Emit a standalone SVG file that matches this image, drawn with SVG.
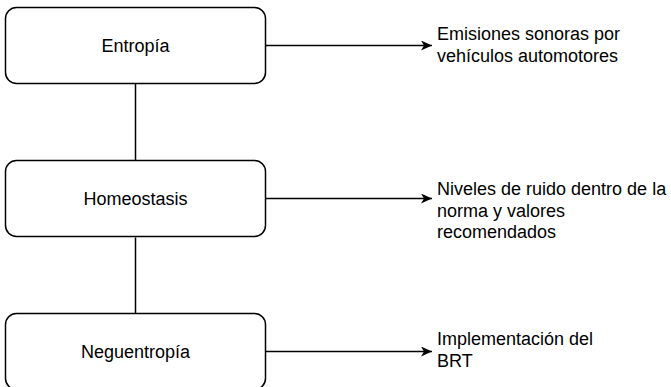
<svg xmlns="http://www.w3.org/2000/svg" width="671" height="387" viewBox="0 0 671 387">
<defs>
<marker id="arr" viewBox="0 0 11 10" refX="11" refY="5" markerWidth="11" markerHeight="10" markerUnits="userSpaceOnUse" orient="auto">
<path d="M0,0 L11,5 L0,10 L3,5 Z" fill="#000"/>
</marker>
<style>
.box{fill:#fff;stroke:#000;stroke-width:1.5}
.lbl{font-family:"Liberation Sans",Arial,Helvetica,sans-serif;font-size:18px;fill:#000}
.mid{text-anchor:middle}
.edge{fill:none;stroke:#000;stroke-width:1.5}
</style>
</defs>
<rect width="671" height="387" fill="#fff"/>
<g id="connectors">
<path class="edge" d="M135.5,83.5 V160.5"/>
<path class="edge" d="M135.5,237.5 V313.5"/>
<path class="edge" d="M265.5,45.5 H432" marker-end="url(#arr)"/>
<path class="edge" d="M265.5,198.5 H432" marker-end="url(#arr)"/>
<path class="edge" d="M265.5,351.5 H432" marker-end="url(#arr)"/>
</g>
<g id="entropia">
<rect class="box" x="5.5" y="7.5" width="260" height="76" rx="11"/>
<text class="lbl mid" x="135.5" y="51.8">Entropía</text>
</g>
<g id="homeostasis">
<rect class="box" x="5.5" y="160.5" width="260" height="76" rx="11"/>
<text class="lbl mid" x="135.5" y="204.8">Homeostasis</text>
</g>
<g id="neguentropia">
<rect class="box" x="5.5" y="313.5" width="260" height="76" rx="11"/>
<text class="lbl mid" x="135.5" y="357.8">Neguentropía</text>
</g>
<g id="emisiones">
<text class="lbl" x="437" y="39.5">Emisiones sonoras por</text>
<text class="lbl" x="437" y="61.5">vehículos automotores</text>
</g>
<g id="niveles">
<text class="lbl" x="437" y="195">Niveles de ruido dentro de la</text>
<text class="lbl" x="437" y="216.7">norma y valores</text>
<text class="lbl" x="437" y="238.3">recomendados</text>
</g>
<g id="implementacion">
<text class="lbl" x="437" y="345">Implementación del</text>
<text class="lbl" x="437" y="366.7">BRT</text>
</g>
</svg>
